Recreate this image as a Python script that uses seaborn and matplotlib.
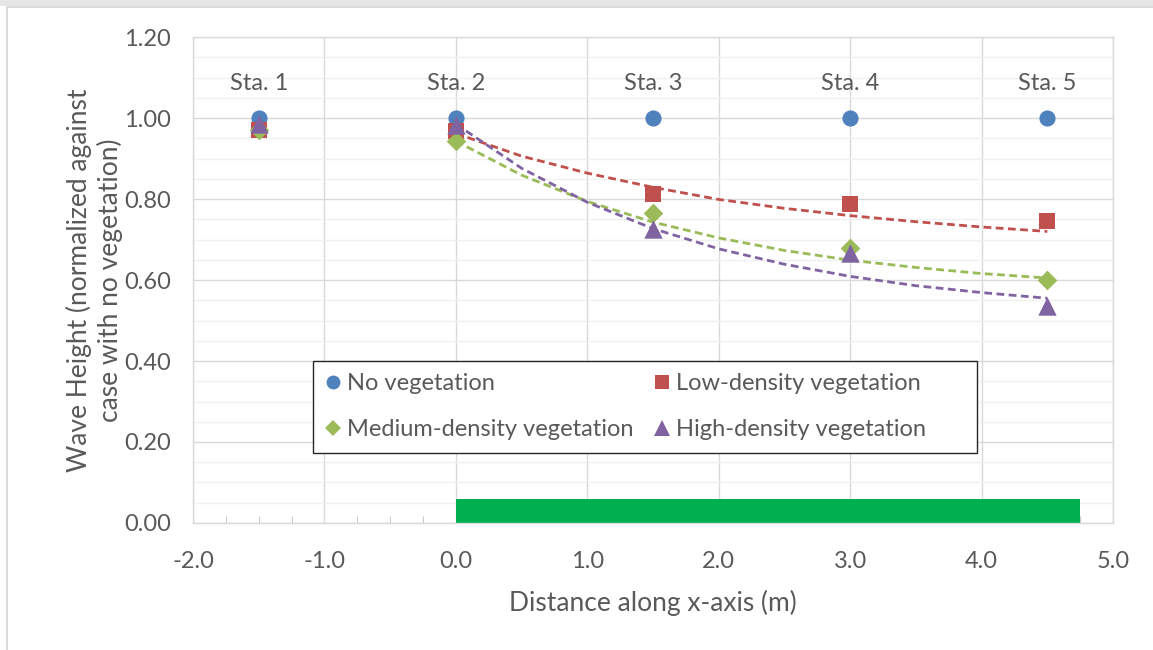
import numpy as np
import pandas as pd
import matplotlib
matplotlib.use('Agg')
import matplotlib.pyplot as plt
from matplotlib.lines import Line2D
from matplotlib.patches import Rectangle
from matplotlib.ticker import MultipleLocator
import seaborn as sns

# Station positions along the flume and their labels
station_x = [-1.5, 0.0, 1.5, 3.0, 4.5]
station_labels = ['Sta. 1', 'Sta. 2', 'Sta. 3', 'Sta. 4', 'Sta. 5']

# Normalized wave height at each station
no_veg = [1.00, 1.00, 1.00, 1.00, 1.00]
low_density = [0.970, 0.968, 0.813, 0.788, 0.745]
medium_density = [0.970, 0.943, 0.765, 0.680, 0.601]
high_density = [0.985, 0.983, 0.727, 0.667, 0.537]

# Dashed trend curves over the vegetated stretch
trend_x = [0.0, 0.5, 1.0, 1.5, 2.0, 2.5, 3.0, 3.5, 4.0, 4.5]
low_trend = [0.962, 0.906, 0.864, 0.829, 0.799, 0.777, 0.759, 0.744, 0.731, 0.720]
medium_trend = [0.943, 0.859, 0.794, 0.743, 0.704, 0.673, 0.649, 0.631, 0.616, 0.605]
high_trend = [0.985, 0.876, 0.792, 0.727, 0.677, 0.639, 0.609, 0.586, 0.569, 0.555]

# Vegetation patch shown along the bottom of the plot
veg_start = 0.0
veg_end = 4.75
veg_height = 0.06

sns.set_style('white')
plt.rcParams['font.family'] = ['Lato', 'DejaVu Sans']
text_gray = '#595959'

fig = plt.figure(figsize=(11.53, 6.5), dpi=100)

# Screenshot frame around the chart area
fig.patches.append(Rectangle((0, 0.991), 1, 0.009, transform=fig.transFigure,
                             facecolor='#E6E6E6', edgecolor='none', zorder=-10))
fig.patches.append(Rectangle((0.006, -0.01), 1.0, 1.0, transform=fig.transFigure,
                             facecolor='none', edgecolor='#D4D4D4', linewidth=1.2, zorder=-10))

ax = fig.add_axes([0.1674, 0.1954, 0.7979, 0.7476])

# Vegetation zone
ax.bar(veg_start, veg_height, width=veg_end - veg_start, align='edge',
       color='#00B050', linewidth=0, zorder=2)

series = [
    ('No vegetation', no_veg, None, '#4F81BD', 'o', 135),
    ('Low-density vegetation', low_density, low_trend, '#C0504D', 's', 120),
    ('Medium-density vegetation', medium_density, medium_trend, '#9BBB59', 'D', 100),
    ('High-density vegetation', high_density, high_trend, '#8064A2', '^', 175),
]

# Trend lines first, markers on top
for name, vals, trend, color, marker, size in series:
    if trend is not None:
        sns.lineplot(x=trend_x, y=trend, color=color, linewidth=2.0,
                     linestyle=(0, (2.8, 1.6)), ax=ax, zorder=3)

for i, (name, vals, trend, color, marker, size) in enumerate(series):
    df = pd.DataFrame({'x': station_x, 'y': vals})
    sns.scatterplot(data=df, x='x', y='y', color=color, marker=marker, s=size,
                    linewidth=0, ax=ax, zorder=4 + i)

for x, lab in zip(station_x, station_labels):
    ax.text(x, 1.085, lab, ha='center', va='center', fontsize=17, color=text_gray)

ax.set_xlim(-2.0, 5.0)
ax.set_ylim(0, 1.2)
ax.xaxis.set_major_locator(MultipleLocator(1.0))
ax.xaxis.set_minor_locator(MultipleLocator(0.25))
ax.yaxis.set_major_locator(MultipleLocator(0.2))
ax.yaxis.set_minor_locator(MultipleLocator(0.05))
ax.xaxis.set_major_formatter(plt.FuncFormatter(lambda v, p: f'{v:.1f}'))
ax.yaxis.set_major_formatter(plt.FuncFormatter(lambda v, p: f'{v:.2f}'))

ax.grid(True, which='major', color='#D9D9D9', linewidth=1.0)
ax.grid(True, which='minor', axis='y', color='#F0F0F0', linewidth=1.0)
ax.set_axisbelow(True)
for sp in ax.spines.values():
    sp.set_color('#D9D9D9')
    sp.set_linewidth(1.0)

ax.tick_params(axis='x', which='major', length=0, pad=20, labelsize=17, labelcolor=text_gray)
ax.tick_params(axis='x', which='minor', direction='in', length=5, color='#BFBFBF', bottom=True)
ax.tick_params(axis='y', which='both', length=0, pad=16, labelsize=17, labelcolor=text_gray)

ax.set_xlabel('Distance along x-axis (m)', fontsize=19, color=text_gray, labelpad=13)
ax.set_ylabel('Wave Height (normalized against\ncase with no vegetation)', fontsize=19,
              color=text_gray, labelpad=1, linespacing=1.2)

# Legend laid out row by row: No / Low, Medium / High
def handle(color, marker, ms):
    return Line2D([], [], linestyle='none', marker=marker, color=color,
                  markersize=ms, markeredgewidth=0)

handles = [handle('#4F81BD', 'o', 10), handle('#9BBB59', 'D', 8.5),
           handle('#C0504D', 's', 10), handle('#8064A2', '^', 11)]
labels = ['No vegetation', 'Medium-density vegetation',
          'Low-density vegetation', 'High-density vegetation']

# Legend box is a bit wider than its content, like the original
leg_left, leg_top, leg_right, leg_bottom = 0.1304, 0.333, 0.852, 0.144
ax.add_patch(Rectangle((leg_left, leg_bottom), leg_right - leg_left, leg_top - leg_bottom,
                       transform=ax.transAxes, facecolor='white', edgecolor='#262626',
                       linewidth=1.0, zorder=9))
leg = ax.legend(handles, labels, ncol=2, loc='upper left', bbox_to_anchor=(leg_left, leg_top),
                fontsize=17, frameon=False, handlelength=0.7, handletextpad=0.25,
                columnspacing=0.85, borderpad=0.5, labelspacing=1.08,
                borderaxespad=0)
leg.set_zorder(10)
for t in leg.get_texts():
    t.set_color(text_gray)

plt.savefig('out.png', dpi=100)
